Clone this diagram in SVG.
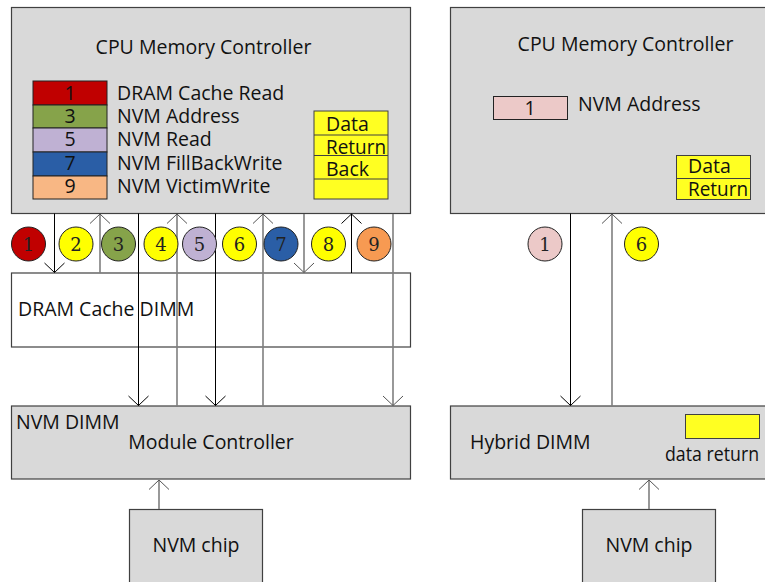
<svg xmlns="http://www.w3.org/2000/svg" width="765" height="582" viewBox="0 0 765 582">
<style>
  .box{fill:#d9d9d9;stroke:#404040;stroke-width:1.2}
  .wbox{fill:#ffffff;stroke:#404040;stroke-width:1.2}
  .t{font-family:"Open Sans","Liberation Sans",sans-serif;font-size:19.5px;fill:#111}
  .tc{text-anchor:middle}
  .cn{font-family:"DejaVu Serif","Liberation Serif",serif;font-size:18px;fill:#222;text-anchor:middle}
  .circ{stroke:#222;stroke-width:1}
  .leg{stroke:#222;stroke-width:1}
  .ylw{fill:#ffff22;stroke:#404040;stroke-width:1}
  .k{stroke:#000;stroke-width:1;fill:none}
  .g{stroke:#7f7f7f;stroke-width:1.6;fill:none}
</style>
<defs>
  <marker id="ak" markerUnits="userSpaceOnUse" markerWidth="24" markerHeight="24" refX="0" refY="0" viewBox="-12 -12 24 24" orient="auto">
    <path d="M-9.5,-10 L0,0 L-9.5,10" fill="none" stroke="#000" stroke-width="1"/>
  </marker>
  <marker id="ag" markerUnits="userSpaceOnUse" markerWidth="24" markerHeight="24" refX="0" refY="0" viewBox="-12 -12 24 24" orient="auto">
    <path d="M-9.5,-10 L0,0 L-9.5,10" fill="none" stroke="#555" stroke-width="1"/>
  </marker>
</defs>

<!-- LEFT SIDE -->
<g id="cpu-left">
  <rect class="box" x="11.5" y="7.5" width="399" height="206"/>
  <text class="t tc" x="203.5" y="54">CPU Memory Controller</text>
</g>
<g id="legend">
  <rect class="leg" x="33" y="81" width="74" height="24" fill="#c00000"/>
  <rect class="leg" x="33" y="105" width="74" height="23" fill="#86a34a"/>
  <rect class="leg" x="33" y="128" width="74" height="24" fill="#bfb1d3"/>
  <rect class="leg" x="33" y="152" width="74" height="24" fill="#2a5ea6"/>
  <rect class="leg" x="33" y="176" width="74" height="23" fill="#f8b784"/>
  <text class="t tc" x="70" y="99.5">1</text>
  <text class="t tc" x="70" y="122.5">3</text>
  <text class="t tc" x="70" y="146">5</text>
  <text class="t tc" x="70" y="169.5">7</text>
  <text class="t tc" x="70" y="193">9</text>
  <text class="t" x="117" y="99.5">DRAM Cache Read</text>
  <text class="t" x="117" y="122.5">NVM Address</text>
  <text class="t" x="117" y="146">NVM Read</text>
  <text class="t" x="117" y="169.5">NVM FillBackWrite</text>
  <text class="t" x="117" y="193">NVM VictimWrite</text>
</g>
<g id="data-return-back">
  <rect class="ylw" x="314" y="111" width="74" height="88"/>
  <line x1="314" y1="135" x2="388" y2="135" stroke="#404040"/>
  <line x1="314" y1="155.5" x2="388" y2="155.5" stroke="#404040"/>
  <line x1="314" y1="179" x2="388" y2="179" stroke="#404040"/>
  <text class="t" x="326" y="130.5">Data</text>
  <text class="t" x="326" y="153.5" textLength="60" lengthAdjust="spacingAndGlyphs">Return</text>
  <text class="t" x="326" y="175.5">Back</text>
</g>
<g id="dram-dimm">
  <rect class="wbox" x="11.5" y="273" width="399" height="74"/>
  <text class="t" x="18" y="316">DRAM Cache DIMM</text>
</g>
<g id="nvm-dimm">
  <rect class="box" x="11.5" y="406" width="399" height="73"/>
  <text class="t" x="16" y="429">NVM DIMM</text>
  <text class="t tc" x="211" y="449">Module Controller</text>
</g>
<g id="nvm-chip-left">
  <rect class="box" x="129.5" y="509.5" width="133" height="80"/>
  <text class="t tc" x="196" y="552">NVM chip</text>
</g>

<!-- RIGHT SIDE -->
<g id="cpu-right">
  <rect class="box" x="450.5" y="7.5" width="320" height="206"/>
  <text class="t tc" x="625.5" y="50.5">CPU Memory Controller</text>
  <rect class="leg" x="493.5" y="96.5" width="74" height="23" fill="#ecc9c8"/>
  <text class="t tc" x="530" y="114.5">1</text>
  <text class="t" x="578" y="111">NVM Address</text>
  <rect class="ylw" x="676.5" y="155.5" width="74" height="44"/>
  <line x1="676.5" y1="178.5" x2="750.5" y2="178.5" stroke="#404040"/>
  <text class="t" x="688" y="173">Data</text>
  <text class="t" x="688" y="196" textLength="60" lengthAdjust="spacingAndGlyphs">Return</text>
</g>
<g id="hybrid-dimm">
  <rect class="box" x="450.5" y="406" width="320" height="73"/>
  <text class="t" x="470" y="449">Hybrid DIMM</text>
  <rect class="ylw" x="685.5" y="414.5" width="74" height="24"/>
  <text class="t" x="665" y="461" textLength="94" lengthAdjust="spacingAndGlyphs">data return</text>
</g>
<g id="nvm-chip-right">
  <rect class="box" x="582.5" y="509.5" width="133" height="80"/>
  <text class="t tc" x="649" y="552">NVM chip</text>
</g>

<!-- CONNECTORS -->
<g id="connectors">
  <line class="k" x1="54.5" y1="213.5" x2="54.5" y2="272.5" marker-end="url(#ak)"/>
  <line class="g" x1="100" y1="273" x2="100" y2="214" marker-end="url(#ag)"/>
  <line class="k" x1="138.5" y1="213.5" x2="138.5" y2="405.5" marker-end="url(#ak)"/>
  <line class="g" x1="177" y1="406" x2="177" y2="214" marker-end="url(#ag)"/>
  <line class="k" x1="215.5" y1="213.5" x2="215.5" y2="405.5" marker-end="url(#ak)"/>
  <line class="g" x1="263" y1="406" x2="263" y2="214" marker-end="url(#ag)"/>
  <line class="g" x1="304" y1="214" x2="304" y2="272.5" marker-end="url(#ag)"/>
  <line class="k" x1="351.5" y1="273" x2="351.5" y2="214" marker-end="url(#ak)"/>
  <line class="g" x1="393" y1="214" x2="393" y2="405.5" marker-end="url(#ag)"/>
  <line class="g" x1="159" y1="509" x2="159" y2="480" marker-end="url(#ag)"/>

  <line class="k" x1="570.5" y1="213.5" x2="570.5" y2="405.5" marker-end="url(#ak)"/>
  <line class="g" x1="612" y1="406" x2="612" y2="214" marker-end="url(#ag)"/>
  <line class="g" x1="649" y1="509" x2="649" y2="480" marker-end="url(#ag)"/>
</g>

<g id="step-circles">
  <circle class="circ" cx="28.5" cy="244" r="17" fill="#c00000"/>
  <circle class="circ" cx="76" cy="244" r="17" fill="#ffff00"/>
  <circle class="circ" cx="118.5" cy="244" r="17" fill="#86a34a"/>
  <circle class="circ" cx="161" cy="244" r="17" fill="#ffff00"/>
  <circle class="circ" cx="199.5" cy="244" r="17" fill="#bfb1d3"/>
  <circle class="circ" cx="239.5" cy="244" r="17" fill="#ffff00"/>
  <circle class="circ" cx="281" cy="244" r="17" fill="#2a5ea6"/>
  <circle class="circ" cx="328.5" cy="244" r="17" fill="#ffff00"/>
  <circle class="circ" cx="374" cy="244" r="17" fill="#f79a52"/>
  <text class="cn" x="28.5" y="250.5">1</text>
  <text class="cn" x="76" y="250.5">2</text>
  <text class="cn" x="118.5" y="250.5">3</text>
  <text class="cn" x="161" y="250.5">4</text>
  <text class="cn" x="199.5" y="250.5">5</text>
  <text class="cn" x="239.5" y="250.5">6</text>
  <text class="cn" x="281" y="250.5">7</text>
  <text class="cn" x="328.5" y="250.5">8</text>
  <text class="cn" x="374" y="250.5">9</text>
  <circle class="circ" cx="545" cy="244" r="17" fill="#ecc9c8"/>
  <circle class="circ" cx="641.5" cy="244" r="17" fill="#ffff00"/>
  <text class="cn" x="545" y="250.5">1</text>
  <text class="cn" x="641.5" y="250.5">6</text>
</g>
</svg>
